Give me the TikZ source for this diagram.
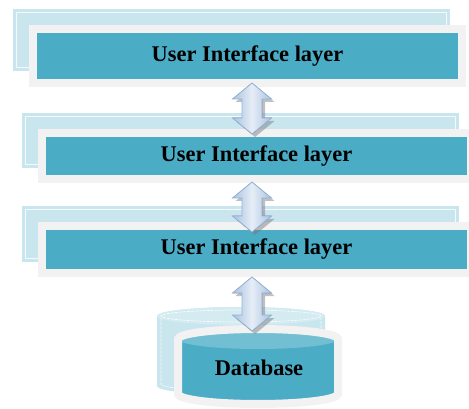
\documentclass[tikz,border=0pt]{standalone}
\usepackage{fontspec}
\setmainfont{Liberation Serif}
\usetikzlibrary{calc}
\definecolor{uiteal}{HTML}{4BACC6}
\definecolor{uitop}{HTML}{72BFD3}
\definecolor{framegray}{HTML}{F2F2F2}
\definecolor{backblue}{HTML}{C9E6EE}
\definecolor{backtop}{HTML}{D3EBF1}
\definecolor{arrowblue}{HTML}{A9C2E2}
\definecolor{arrowlight}{HTML}{E6EDF6}
\definecolor{arrowedge}{HTML}{95B3D7}

\newcommand\layerlink[2]{%
\fill[arrow shade] let \p1=(#1), \p2=(#2) in
(255pt,{\y1-3pt}) -- (274.5pt,{\y1-19pt}) -- (265pt,{\y1-19pt}) -- (265pt,{\y2+13pt})
-- (274.5pt,{\y2+13pt}) -- (255pt,{\y2-3pt}) -- (235.5pt,{\y2+13pt}) -- (245pt,{\y2+13pt})
-- (245pt,{\y1-19pt}) -- (235.5pt,{\y1-19pt}) -- cycle;
\filldraw[arrow body] let \p1=(#1), \p2=(#2) in
(252pt,\y1) -- (271.5pt,{\y1-16pt}) -- (262pt,{\y1-16pt}) -- (262pt,{\y2+16pt})
-- (271.5pt,{\y2+16pt}) -- (252pt,\y2) -- (232.5pt,{\y2+16pt}) -- (242pt,{\y2+16pt})
-- (242pt,{\y1-16pt}) -- (232.5pt,{\y1-16pt}) -- cycle;
}

\begin{document}
\begin{tikzpicture}[x=1pt,y=-1pt,
every node/.style = {
inner sep      = 0pt,
align          = center,
text           = black,
font           = \fontsize{22.4}{26}\selectfont\bfseries},
back box/.style  = {
fill           = backblue,
minimum width  = 437pt},
layer box/.style = {
fill           = uiteal,
draw           = framegray,
line width     = 8pt,
minimum width  = 429pt},
inner line/.style = {
draw           = white,
line width     = 0.7pt,
opacity        = 0.8},
arrow body/.style = {
left color     = arrowblue,
right color    = arrowblue,
middle color   = arrowlight,
draw           = arrowedge,
line width     = 0.8pt,
line join      = miter},
arrow shade/.style = {
fill           = black!55,
opacity        = 0.45}
]
\clip (0,0) rectangle (469,409);
%
\node[back box, minimum height=62pt] (bk1) at (231.5,40) {};
\node[back box, minimum height=55pt] (bk2) at (240.5,140.5) {};
\node[back box, minimum height=56pt] (bk3) at (240.5,234) {};
\draw[inner line] ([shift={(4,4)}]bk1.north west) rectangle ([shift={(-4,-4)}]bk1.south east);
\draw[inner line] ([shift={(4,4)}]bk2.north west) rectangle ([shift={(-4,-4)}]bk2.south east);
\draw[inner line] ([shift={(4,4)}]bk3.north west) rectangle ([shift={(-4,-4)}]bk3.south east);
%
\node[layer box, minimum height=54pt] (ui1) at (247.5,56) {User Interface layer};
\node[layer box, minimum height=46pt] (ui2) at (256.5,156) {User Interface layer};
\node[layer box, minimum height=47pt] (ui3) at (256.5,249.5) {User Interface layer};
%
% database
\fill[backblue] (157,316) -- (157,386) arc[start angle=180, end angle=0, x radius=84, y radius=9]
-- (325,316) arc[start angle=0, end angle=-180, x radius=84, y radius=9] -- cycle;
\fill[backtop] (241,316) ellipse[x radius=84, y radius=9];
\draw[inner line, dash pattern=on 3pt off 1pt] (161,318) -- (161,384)
arc[start angle=180, end angle=0, x radius=80, y radius=7] -- (321,318);
\draw[inner line, dash pattern=on 3pt off 1pt] (241,316) ellipse[x radius=80, y radius=6];
%
\fill[uiteal] (178,339) -- (178,394) arc[start angle=180, end angle=0, x radius=80, y radius=10]
-- (338,339) arc[start angle=0, end angle=-180, x radius=80, y radius=10] -- cycle;
\fill[uitop] (258,339) ellipse[x radius=80, y radius=10];
\draw[framegray, line width=8pt] (178,339) -- (178,394) arc[start angle=180, end angle=0, x radius=80, y radius=10]
-- (338,339) arc[start angle=0, end angle=-180, x radius=80, y radius=10] -- cycle;
\coordinate (dbtop) at (252,331);
\node (db) at (259,368) {Database};
%
\layerlink{[yshift=4pt]ui1.south}{[yshift=-5pt]ui2.north}
\layerlink{[yshift=1pt]ui2.south}{[yshift=-10pt]ui3.north}
\layerlink{ui3.south}{dbtop}
%
\end{tikzpicture}
\end{document}
